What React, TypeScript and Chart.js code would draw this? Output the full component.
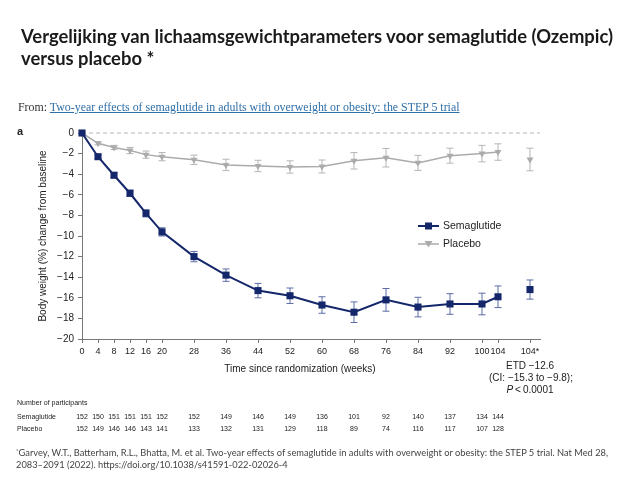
import React, { useEffect, useRef } from "react";
import { Chart, registerables } from "chart.js";

Chart.register(...registerables);

// ---- Data ----
const weeks = [0, 4, 8, 12, 16, 20, 28, 36, 44, 52, 60, 68, 76, 84, 92, 100, 104];
const semaglutide = [0, -2.3, -4.1, -5.85, -7.8, -9.6, -12.0, -13.8, -15.3, -15.8, -16.7, -17.4, -16.2, -16.9, -16.6, -16.6, -15.9];
const semaglutideErr = [0, 0.2, 0.25, 0.3, 0.35, 0.4, 0.5, 0.6, 0.7, 0.75, 0.8, 1.0, 1.1, 0.95, 1.0, 1.05, 1.05];
const placebo = [0, -1.0, -1.4, -1.7, -2.1, -2.3, -2.6, -3.1, -3.2, -3.3, -3.25, -2.7, -2.4, -2.9, -2.2, -2.0, -1.85];
const placeboErr = [0, 0.15, 0.2, 0.3, 0.35, 0.4, 0.45, 0.55, 0.55, 0.6, 0.63, 0.8, 0.9, 0.73, 0.73, 0.8, 0.8];

const finalWeek = 112; // axis position of the "104*" column
const semaglutideFinal = -15.2;
const semaglutideFinalErr = 0.93;
const placeboFinal = -2.57;
const placeboFinalErr = 1.1;

const xTicks = [...weeks, finalWeek];
const xTickLabels = ["0", "4", "8", "12", "16", "20", "28", "36", "44", "52", "60", "68", "76", "84", "92", "100", "104", "104*"];

const semaglutideN = [152, 150, 151, 151, 151, 152, 152, 149, 146, 149, 136, 101, 92, 140, 137, 134, 144];
const placeboN = [152, 149, 146, 146, 143, 141, 133, 132, 131, 129, 118, 89, 74, 116, 117, 107, 128];

const NAVY = "#14276b";
const NAVY_ERR = "#5b6ca6";
const GRAY = "#ababab";
const GRAY_ERR = "#b5b5b5";
const AXIS = "#777777";
const SANS = "'Liberation Sans', Arial, sans-serif";

const errorBarPlugin = {
  id: "errorBars",
  beforeDatasetsDraw(chart: any) {
    const { ctx, scales } = chart;
    const xs = scales.x;
    const ys = scales.y;
    // dashed zero reference line
    ctx.save();
    ctx.strokeStyle = "#cfcfcf";
    ctx.lineWidth = 1.5;
    ctx.setLineDash([4, 3]);
    ctx.beginPath();
    const y0 = ys.getPixelForValue(0);
    ctx.moveTo(chart.chartArea.left, y0);
    ctx.lineTo(chart.chartArea.right, y0);
    ctx.stroke();
    ctx.setLineDash([]);
    chart.data.datasets.forEach((ds: any) => {
      if (!ds.errors) return;
      ctx.strokeStyle = ds.errorColor;
      ctx.lineWidth = 1;
      ds.data.forEach((p: any, i: number) => {
        const e = ds.errors[i];
        if (!e) return;
        const px = xs.getPixelForValue(p.x);
        const yt = ys.getPixelForValue(p.y + e);
        const yb = ys.getPixelForValue(p.y - e);
        ctx.beginPath();
        ctx.moveTo(px, yt);
        ctx.lineTo(px, yb);
        ctx.moveTo(px - 3.5, yt);
        ctx.lineTo(px + 3.5, yt);
        ctx.moveTo(px - 3.5, yb);
        ctx.lineTo(px + 3.5, yb);
        ctx.stroke();
      });
    });
    ctx.restore();
  },
};

const annotationsPlugin = {
  id: "annotations",
  afterDraw(chart: any) {
    const { ctx, scales } = chart;
    const xs = scales.x;
    ctx.save();
    ctx.fillStyle = "#222";
    // panel label
    ctx.font = `bold 11px ${SANS}`;
    ctx.textAlign = "left";
    ctx.textBaseline = "middle";
    ctx.fillText("a", 17, 132);

    // y title
    ctx.save();
    ctx.translate(43, 236);
    ctx.rotate(-Math.PI / 2);
    ctx.font = `10px ${SANS}`;
    ctx.textAlign = "center";
    ctx.fillText("Body weight (%) change from baseline", 0, 0);
    ctx.restore();

    // x title
    ctx.font = `10px ${SANS}`;
    ctx.textAlign = "center";
    ctx.fillText("Time since randomization (weeks)", 300, 369);

    // ETD annotation
    const ex = xs.getPixelForValue(finalWeek);
    ctx.fillText("ETD \u221212.6", ex, 366);
    ctx.fillText("(CI: \u221215.3 to \u22129.8);", ex + 1, 378);
    const pPart = "P";
    const rest = "\u2009<\u20090.0001";
    ctx.font = `italic 10px ${SANS}`;
    const wP = ctx.measureText(pPart).width;
    ctx.font = `10px ${SANS}`;
    const wR = ctx.measureText(rest).width;
    const startX = ex - (wP + wR) / 2;
    ctx.textAlign = "left";
    ctx.font = `italic 10px ${SANS}`;
    ctx.fillText(pPart, startX, 390);
    ctx.font = `10px ${SANS}`;
    ctx.fillText(rest, startX + wP, 390);

    // legend
    const legendItems = [
      { label: "Semaglutide", color: NAVY, y: 226, shape: "rect" },
      { label: "Placebo", color: GRAY, y: 244, shape: "tri" },
    ];
    legendItems.forEach((it) => {
      ctx.strokeStyle = it.color;
      ctx.lineWidth = it.shape === "rect" ? 2 : 1.5;
      ctx.beginPath();
      ctx.moveTo(418, it.y);
      ctx.lineTo(439, it.y);
      ctx.stroke();
      ctx.fillStyle = it.color;
      if (it.shape === "rect") {
        ctx.fillRect(428.5 - 3.5, it.y - 3.5, 7, 7);
      } else {
        ctx.beginPath();
        ctx.moveTo(428.5 - 4, it.y - 3);
        ctx.lineTo(428.5 + 4, it.y - 3);
        ctx.lineTo(428.5, it.y + 3.5);
        ctx.closePath();
        ctx.fill();
      }
      ctx.fillStyle = "#222";
      ctx.font = `10.5px ${SANS}`;
      ctx.textAlign = "left";
      ctx.fillText(it.label, 443, it.y);
    });

    // participants table
    ctx.fillStyle = "#222";
    ctx.font = `7px ${SANS}`;
    ctx.textAlign = "left";
    ctx.fillText("Number of participants", 17, 403);
    ctx.fillText("Semaglutide", 17, 417);
    ctx.fillText("Placebo", 17, 429);
    ctx.textAlign = "center";
    weeks.forEach((w, i) => {
      const px = xs.getPixelForValue(w);
      ctx.fillText(String(semaglutideN[i]), px, 417);
      ctx.fillText(String(placeboN[i]), px, 429);
    });
    ctx.restore();
  },
};

export default function App() {
  const canvasRef = useRef<HTMLCanvasElement | null>(null);

  useEffect(() => {
    if (!canvasRef.current) return;
    const chart = new Chart(canvasRef.current, {
      type: "line",
      data: {
        datasets: [
          {
            label: "Semaglutide",
            data: weeks.map((w, i) => ({ x: w, y: semaglutide[i] })),
            borderColor: NAVY,
            backgroundColor: NAVY,
            borderWidth: 2,
            pointStyle: "rect",
            pointRadius: 5,
            pointBorderWidth: 0,
            errors: semaglutideErr,
            errorColor: NAVY_ERR,
          } as any,
          {
            label: "Placebo",
            data: weeks.map((w, i) => ({ x: w, y: placebo[i] })),
            borderColor: GRAY,
            backgroundColor: GRAY,
            borderWidth: 1.5,
            pointStyle: "triangle",
            pointRotation: 180,
            pointRadius: 4,
            pointBorderWidth: 0,
            errors: placeboErr,
            errorColor: GRAY_ERR,
          } as any,
          {
            label: "Semaglutide 104*",
            data: [{ x: finalWeek, y: semaglutideFinal }],
            showLine: false,
            backgroundColor: NAVY,
            borderColor: NAVY,
            pointStyle: "rect",
            pointRadius: 5,
            pointBorderWidth: 0,
            errors: [semaglutideFinalErr],
            errorColor: NAVY_ERR,
          } as any,
          {
            label: "Placebo 104*",
            data: [{ x: finalWeek, y: placeboFinal }],
            showLine: false,
            backgroundColor: GRAY,
            borderColor: GRAY,
            pointStyle: "triangle",
            pointRotation: 180,
            pointRadius: 4,
            pointBorderWidth: 0,
            errors: [placeboFinalErr],
            errorColor: GRAY_ERR,
          } as any,
        ],
      },
      options: {
        animation: false,
        responsive: false,
        clip: false as any,
        layout: { padding: { top: 133, left: 0, right: 100, bottom: 0 } },
        plugins: { legend: { display: false }, tooltip: { enabled: false } },
        scales: {
          x: {
            type: "linear",
            min: 0,
            max: 114.5,
            afterFit: (s: any) => {
              s.height = 141;
            },
            afterBuildTicks: (s: any) => {
              s.ticks = xTicks.map((v) => ({ value: v }));
            },
            border: { display: true, color: AXIS, width: 1 },
            grid: { display: true, drawOnChartArea: false, drawTicks: true, tickLength: 4, color: AXIS },
            ticks: {
              autoSkip: false,
              maxRotation: 0,
              padding: 3,
              color: "#222",
              font: { family: SANS, size: 9 },
              callback: (v: any) => {
                const i = xTicks.indexOf(Number(v));
                return i >= 0 ? xTickLabels[i] : "";
              },
            },
          },
          y: {
            type: "linear",
            min: -20,
            max: 0,
            afterFit: (s: any) => {
              s.width = 82;
            },
            border: { display: true, color: AXIS, width: 1 },
            grid: { display: true, drawOnChartArea: false, drawTicks: true, tickLength: 4, color: AXIS },
            ticks: {
              stepSize: 2,
              padding: 4,
              color: "#222",
              font: { family: SANS, size: 10 },
              callback: (v: any) => (Number(v) === 0 ? "0" : "\u2212" + Math.abs(Number(v))),
            },
          },
        },
      },
      plugins: [errorBarPlugin, annotationsPlugin],
    });
    return () => chart.destroy();
  }, []);

  return (
    <div style={{ position: "absolute", left: 0, top: 0, width: 640, height: 480, background: "#fff", overflow: "hidden" }}>
      <canvas ref={canvasRef} width={640} height={480} style={{ position: "absolute", left: 0, top: 0, width: 640, height: 480 }} />
      <div
        style={{
          position: "absolute",
          left: 21,
          top: 25,
          fontFamily: "Lato, sans-serif",
          fontWeight: 700,
          fontSize: 18.4,
          lineHeight: "22px",
          color: "#1a1a1a",
          whiteSpace: "nowrap",
        }}
      >
        Vergelijking van lichaamsgewichtparameters voor semaglutide (Ozempic)
        <br />
        versus placebo *
      </div>
      <div
        style={{
          position: "absolute",
          left: 18,
          top: 100,
          fontFamily: "'Liberation Serif', serif",
          fontSize: 11.9,
          lineHeight: "14px",
          color: "#333",
          whiteSpace: "nowrap",
        }}
      >
        From:{" "}
        <span style={{ color: "#2f6fa7", textDecoration: "underline" }}>
          Two-year effects of semaglutide in adults with overweight or obesity: the STEP 5 trial
        </span>
      </div>
      <div
        style={{
          position: "absolute",
          left: 16,
          top: 447,
          fontFamily: "Lato, sans-serif",
          fontSize: 9.3,
          lineHeight: "12px",
          color: "#444",
          whiteSpace: "nowrap",
        }}
      >
        <sup style={{ fontSize: 6, verticalAlign: "top", lineHeight: "8px" }}>*</sup>Garvey, W.T., Batterham, R.L., Bhatta, M. et al. Two-year effects of semaglutide in adults with overweight or obesity: the STEP 5 trial. Nat Med 28,
        <br />
        2083–2091 (2022). https://doi.org/10.1038/s41591-022-02026-4
      </div>
    </div>
  );
}
